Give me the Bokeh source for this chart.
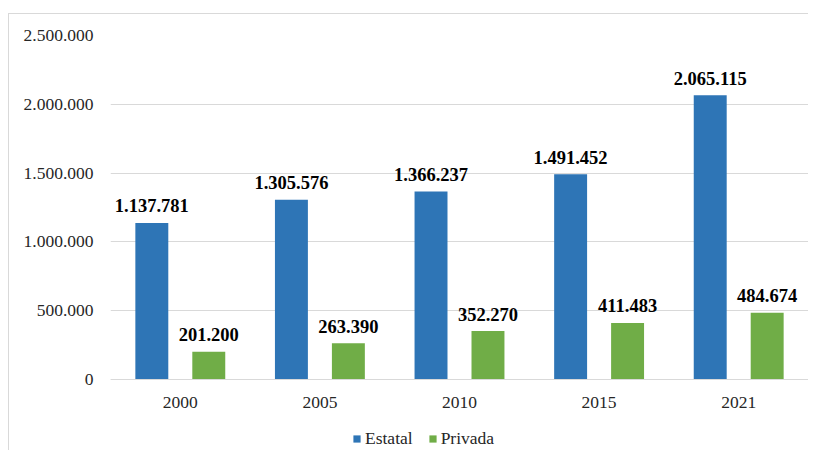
from bokeh.plotting import figure
from bokeh.models import ColumnDataSource, Range1d, FixedTicker, Legend, LegendItem
from bokeh.transform import dodge
from bokeh.core.properties import value
from bokeh.embed import file_html
from bokeh.resources import INLINE

years = ["2000", "2005", "2010", "2015", "2021"]
estatal = [1137781, 1305576, 1366237, 1491452, 2065115]
privada = [201200, 263390, 352270, 411483, 484674]
y_ticks = [0, 500000, 1000000, 1500000, 2000000, 2500000]
y_tick_labels = ["0", "500.000", "1.000.000", "1.500.000", "2.000.000", "2.500.000"]
series_names = ["Estatal", "Privada"]

def fmt(v):
    return f"{v:,}".replace(",", ".")

src = ColumnDataSource(dict(
    year=years,
    estatal=estatal,
    privada=privada,
    est_lbl=[fmt(v) for v in estatal],
    pri_lbl=[fmt(v) for v in privada],
))

FONT = "Liberation Serif"
BLUE = "#2E75B6"
GREEN = "#70AD47"
GRID = "#D9D9D9"

# layout geometry (pixels)
TOP_PAD = 21       # figure top -> 2.500.000 line
PLOT_H = 344       # 0 line -> 2.500.000 line
BELOW0 = 72        # 0 line -> frame bottom (room for x labels and legend)
YMAX = 2500000
ymin = -YMAX * BELOW0 / PLOT_H

p = figure(x_range=years, y_range=Range1d(ymin, YMAX), width=800, height=TOP_PAD + PLOT_H + BELOW0,
           output_backend="svg", toolbar_location=None, x_axis_location="above",
           min_border_left=101, min_border_right=1, min_border_top=TOP_PAD, min_border_bottom=0)
p.outline_line_color = None
p.styles = {"border-left": "1px solid #D9D9D9", "border-top": "1px solid #D9D9D9",
            "margin-left": "8px", "margin-top": "13px"}

off = 0.204
bw = 0.236
r1 = p.vbar(x=dodge("year", -off, range=p.x_range), top="estatal", width=bw, source=src,
            fill_color=BLUE, line_color=None)
r2 = p.vbar(x=dodge("year", off, range=p.x_range), top="privada", width=bw, source=src,
            fill_color=GREEN, line_color=None)

p.text(x=dodge("year", -off, range=p.x_range), y="estatal", text="est_lbl", source=src,
       text_font=value(FONT), text_font_size="18.5px", text_font_style="bold",
       text_align="center", text_baseline="alphabetic", y_offset=-17, text_color="#000000")
p.text(x=dodge("year", off, range=p.x_range), y="privada", text="pri_lbl", source=src,
       text_font=value(FONT), text_font_size="18.5px", text_font_style="bold",
       text_align="center", text_baseline="alphabetic", y_offset=-17, text_color="#000000")

p.yaxis.ticker = FixedTicker(ticks=y_ticks)
p.yaxis.major_label_overrides = {t: l for t, l in zip(y_ticks, y_tick_labels)}
p.yaxis.axis_line_color = None
p.yaxis.major_tick_line_color = None
p.yaxis.minor_tick_line_color = None
p.yaxis.major_label_standoff = 11
p.yaxis.major_label_text_font = FONT
p.yaxis.major_label_text_font_size = "17.5px"
p.yaxis.major_label_text_color = "#262626"

p.xaxis.fixed_location = 0
p.xaxis.axis_line_color = GRID
p.xaxis.major_tick_line_color = None
p.xaxis.minor_tick_line_color = None
p.xaxis.major_label_standoff = -34
p.xaxis.major_label_text_font = FONT
p.xaxis.major_label_text_font_size = "17.5px"
p.xaxis.major_label_text_color = "#262626"

p.xgrid.grid_line_color = None
p.ygrid.grid_line_color = GRID
p.ygrid.grid_line_width = 1

legend = Legend(items=[LegendItem(label=series_names[0], renderers=[r1]),
                       LegendItem(label=series_names[1], renderers=[r2])],
                orientation="horizontal", location=(242, 2),
                glyph_width=9, glyph_height=9, label_standoff=4, spacing=15,
                padding=0, margin=0, border_line_color=None, background_fill_alpha=0,
                label_text_font=FONT, label_text_font_size="17.5px", label_text_color="#262626")
p.add_layout(legend, "center")

open("out.html", "w").write(file_html(p, INLINE))
